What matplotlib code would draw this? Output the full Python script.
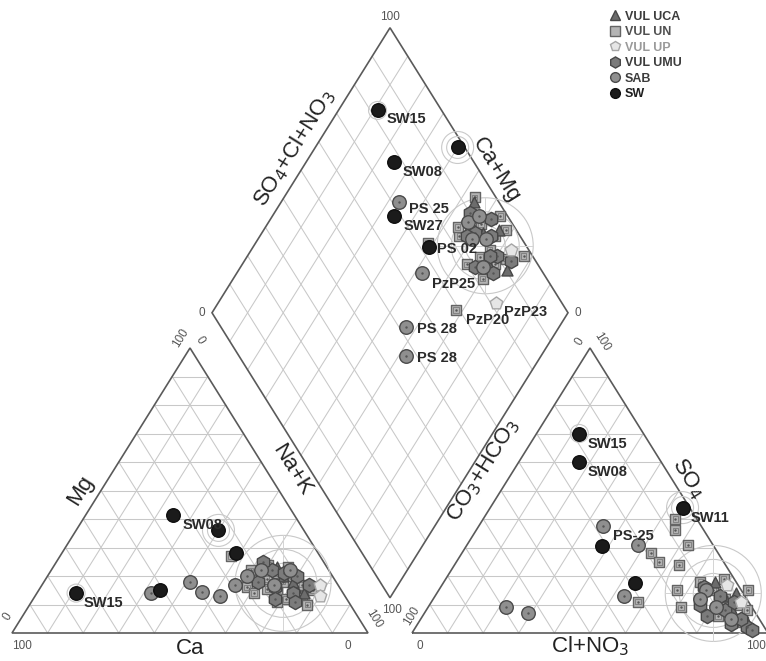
import numpy as np
import matplotlib
matplotlib.use("Agg")
import matplotlib.pyplot as plt
from matplotlib.lines import Line2D
from matplotlib.patches import Circle, Polygon

plt.rcParams["font.family"] = ["Liberation Sans", "DejaVu Sans"]

# ---------------------------------------------------------------------------
# Sample compositions, % meq/L
#   *_CAT : cation triangle  (Mg, Na+K)
#   *_AN  : anion triangle   (SO4, Cl+NO3)
#   *_DIA : diamond          (Na+K, SO4+Cl+NO3)
# ---------------------------------------------------------------------------
GROUPS = ["VUL UCA", "VUL UN", "VUL UP", "VUL UMU", "SAB", "SW"]

SW_CAT = [(14, 11), (41.5, 24.5), (36, 40), (15, 34), (28, 49)]
SW_AN = [(70, 12), (60, 17), (44, 54), (30.5, 38), (17.5, 54)]
SW_DIA = [(11, 82), (24.5, 77.5), (40, 98), (34, 68), (49.5, 72.5)]

SAB_CAT = [(14, 32), (18, 41), (14.5, 46), (13, 52), (17, 54),
           (20, 56), (22, 59), (22, 67), (17, 65)]
SAB_AN = [(37.5, 35), (31, 48), (13, 53), (9, 22), (7, 29),
          (15, 75), (9, 81), (5, 87), (12, 75)]
SAB_DIA = [(33, 72), (57, 52), (62, 47), (52, 66), (56, 88),
           (60, 86), (64, 90), (68, 84), (58, 92)]

UN_CAT = [(27, 48), (16, 58), (15.5, 64), (15, 67), (12, 71), (15, 77),
          (17, 73), (22, 56), (19, 62), (24, 60), (20, 69), (13, 75),
          (18, 67), (10, 78), (21, 64), (14, 61), (11, 69), (23, 66)]
UN_AN = [(40, 54), (36, 56), (31, 62), (28, 53), (25, 57), (24, 63),
         (15, 67), (9, 71), (11, 58), (15, 77), (10, 87), (19, 78),
         (15, 87), (6, 83), (12, 82), (8, 90), (18, 72), (4, 91)]
UN_DIA = [(68, 69), (77.5, 97.5), (48.5, 73), (53.5, 94), (64, 98),
          (56, 83), (68, 97), (63, 80), (71, 88), (65.5, 85), (54, 84),
          (60, 91), (66, 93), (58, 87), (70, 82), (62, 95), (73, 92),
          (67, 89)]

UMU_CAT = [(18, 60), (22, 62), (16, 66), (20, 70), (14, 72),
           (25, 58), (12, 68), (17, 75), (21, 66), (11, 74)]
UMU_AN = [(10, 76), (6, 80), (13, 80), (3, 88), (8, 84),
          (16, 74), (2, 93), (5, 90), (11, 85), (1, 95)]
UMU_DIA = [(60, 88), (65, 92), (70, 90), (58, 85), (72, 86),
           (66, 82), (62, 95), (75, 93), (68, 88), (55, 90)]

UCA_CAT = [(16, 71.5), (20, 66), (14, 75), (18, 70), (23, 63)]
UCA_AN = [(13, 81), (18, 76), (8, 86), (4, 92), (14, 84)]
UCA_DIA = [(54, 93), (75.5, 90.5), (62, 90), (70, 86), (66, 95)]

UP_CAT = [(17, 78), (13, 80)]
UP_AN = [(11, 87), (17, 80)]
UP_DIA = [(78, 81.5), (73, 95)]

DATA = {
    "VUL UCA": (UCA_CAT, UCA_AN, UCA_DIA),
    "VUL UN": (UN_CAT, UN_AN, UN_DIA),
    "VUL UP": (UP_CAT, UP_AN, UP_DIA),
    "VUL UMU": (UMU_CAT, UMU_AN, UMU_DIA),
    "SAB": (SAB_CAT, SAB_AN, SAB_DIA),
    "SW": (SW_CAT, SW_AN, SW_DIA),
}

# point labels: (group, sample index, text, dx, dy)
CAT_LABELS = [("SW", 0, "SW15", 8, 10), ("SW", 1, "SW08", 10, 10)]
AN_LABELS = [("SW", 0, "SW15", 8, 10), ("SW", 1, "SW08", 8, 10),
             ("SW", 2, "SW11", 8, 10), ("SAB", 0, "PS-25", 10, 10)]
DIA_LABELS = [("SW", 0, "SW15", 9, 9), ("SW", 1, "SW08", 9, 10),
              ("SAB", 0, "PS 25", 10, 7), ("SW", 3, "SW27", 10, 10),
              ("SW", 4, "PS 02", 8, 2), ("SAB", 3, "PzP25", 10, 11),
              ("VUL UN", 0, "PzP20", 10, 10), ("VUL UP", 0, "PzP23", 8, 9),
              ("SAB", 1, "PS 28", 11, 2), ("SAB", 2, "PS 28", 11, 2)]

# surface waters with a small ring drawn round them: (sample index, radii px)
SW_RINGS = [(0, (9,)), (2, (11, 16))]

# ---------------------------------------------------------------------------
# Layout (axes units are pixels, y pointing down)
# ---------------------------------------------------------------------------
W, H_FIG = 766, 661
SIDE = 356.0          # triangle side, horizontal
TRI_H = 285.0         # triangle height on screen
BASE_Y = 633.0
CAT_X0 = 12.0
AN_X0 = 412.0
GAP = AN_X0 - CAT_X0 - SIDE
DB = (CAT_X0 + SIDE + GAP / 2, BASE_Y - (GAP / 2) * TRI_H / (SIDE / 2))
DL = (DB[0] - SIDE / 2, DB[1] - TRI_H)
ANG = np.degrees(np.arctan2(TRI_H, SIDE / 2))


def cat_xy(mg, nak):
    mg = np.asarray(mg, float) / 100
    nak = np.asarray(nak, float) / 100
    return CAT_X0 + SIDE * (nak + mg / 2), BASE_Y - TRI_H * mg


def an_xy(so4, cl):
    so4 = np.asarray(so4, float) / 100
    cl = np.asarray(cl, float) / 100
    return AN_X0 + SIDE * (cl + so4 / 2), BASE_Y - TRI_H * so4


def dia_xy(nak, s):
    nak = np.asarray(nak, float) / 100
    s = np.asarray(s, float) / 100
    return DL[0] + SIDE / 2 * (nak + s), DL[1] + TRI_H * (nak - s)


PANELS = [cat_xy, an_xy, dia_xy]

STYLE = {
    "VUL UCA": dict(marker="^", s=62, fc="#6c6c6c", ec="#474747", z=4),
    "VUL UN": dict(marker="s", s=58, fc="#b4b4b4", ec="#646464", z=3),
    "VUL UP": dict(marker="p", s=90, fc="#e6e6e6", ec="#a6a6a6", z=7),
    "VUL UMU": dict(marker="h", s=105, fc="#7b7b7b", ec="#474747", z=5),
    "SAB": dict(marker="o", s=95, fc="#8f8f8f", ec="#4a4a4a", z=6),
    "SW": dict(marker="o", s=95, fc="#1b1b1b", ec="#0e0e0e", z=8),
}
LEGEND_COLORS = {"VUL UCA": "#3c3c3c", "VUL UN": "#505050", "VUL UP": "#9a9a9a",
                 "VUL UMU": "#3c3c3c", "SAB": "#3c3c3c", "SW": "#1e1e1e"}

GRID = "#c8c8c8"
EDGE = "#5a5a5a"
TXT = "#2a2a2a"

fig = plt.figure(figsize=(W / 100, H_FIG / 100), dpi=100)
ax = fig.add_axes([0, 0, 1, 1])
ax.set_xlim(0, W)
ax.set_ylim(H_FIG, 0)
ax.axis("off")


def seg(f, a, b, **kw):
    xa, ya = f(*a)
    xb, yb = f(*b)
    ax.plot([xa, xb], [ya, yb], **kw)


grid_kw = dict(color=GRID, lw=0.75, zorder=1)
for v in range(10, 100, 10):
    for f in (cat_xy, an_xy):
        seg(f, (v, 0), (v, 100 - v), **grid_kw)          # horizontal
        seg(f, (0, v), (100 - v, v), **grid_kw)          # parallel to left edge
        seg(f, (0, 100 - v), (100 - v, 0), **grid_kw)    # parallel to right edge
    seg(dia_xy, (v, 0), (v, 100), **grid_kw)
    seg(dia_xy, (0, v), (100, v), **grid_kw)

# outlines
for f in (cat_xy, an_xy):
    pts = [f(0, 0), f(0, 100), f(100, 0)]
    ax.add_patch(Polygon(pts, closed=True, fill=False, ec=EDGE, lw=1.2, zorder=2))
dia_pts = [dia_xy(0, 0), dia_xy(100, 0), dia_xy(100, 100), dia_xy(0, 100)]
ax.add_patch(Polygon(dia_pts, closed=True, fill=False, ec=EDGE, lw=1.2, zorder=2))

# faint rings around the volcanic cluster and a couple of surface waters
ring_kw = dict(fill=False, ec="#c9c9c9", lw=0.8, zorder=2.5)
for k, f in enumerate(PANELS):
    xs, ys = [], []
    for g in ("VUL UCA", "VUL UN", "VUL UP", "VUL UMU"):
        x, y = f(*np.array(DATA[g][k]).T)
        xs.extend(x)
        ys.extend(y)
    cx, cy = np.mean(xs), np.mean(ys)
    for r in (20, 34, 48):
        ax.add_patch(Circle((cx, cy), r, **ring_kw))
    ax.plot([cx - 48, cx + 48], [cy, cy], color="#d4d4d4", lw=0.7, zorder=2.5)
    ax.plot([cx, cx], [cy - 48, cy + 48], color="#d4d4d4", lw=0.7, zorder=2.5)
    for idx, radii in SW_RINGS:
        x, y = f(*DATA["SW"][k][idx])
        for r in radii:
            ax.add_patch(Circle((float(x), float(y)), r, **ring_kw))

# samples
for g in GROUPS:
    st = STYLE[g]
    for k, f in enumerate(PANELS):
        x, y = f(*np.array(DATA[g][k]).T)
        ax.scatter(x, y, marker=st["marker"], s=st["s"], c=st["fc"],
                   edgecolors=st["ec"], linewidths=1.0, zorder=st["z"])
        if g == "VUL UN":
            ax.scatter(x, y, marker="s", s=16, facecolors="none",
                       edgecolors="#7a7a7a", linewidths=0.6, zorder=st["z"])
        if g in ("VUL UN", "SAB", "VUL UMU"):
            ax.scatter(x, y, marker="o", s=3, c="#555555", linewidths=0,
                       zorder=st["z"])

# point labels
for k, labels in enumerate((CAT_LABELS, AN_LABELS, DIA_LABELS)):
    f = PANELS[k]
    for g, idx, txt, dx, dy in labels:
        x, y = f(*DATA[g][k][idx])
        ax.text(float(x) + dx, float(y) + dy, txt, fontsize=10.5,
                fontweight="bold", color=TXT, ha="left", va="center", zorder=9)

# tick labels at the corners
tick_kw = dict(fontsize=8.5, color="#555555", ha="center", va="center")


def corner(f, p, txt, dx, dy, rot=0):
    x, y = f(*p)
    ax.text(float(x) + dx, float(y) + dy, txt, rotation=rot, **tick_kw)


corner(cat_xy, (0, 0), "100", 10, 13)
corner(cat_xy, (0, 0), "0", -4, -16, ANG)
corner(cat_xy, (0, 100), "0", -20, 13)
corner(cat_xy, (0, 100), "100", 6, -14, -ANG)
corner(cat_xy, (100, 0), "100", -9, -10, ANG)
corner(cat_xy, (100, 0), "0", 10, -8, -ANG)
corner(an_xy, (0, 0), "0", 8, 13)
corner(an_xy, (0, 0), "100", 0, -17, ANG)
corner(an_xy, (0, 100), "100", -12, 13)
corner(an_xy, (100, 0), "0", -10, -6, ANG)
corner(an_xy, (100, 0), "100", 12, -6, -ANG)
corner(dia_xy, (0, 100), "100", 0, -11)
corner(dia_xy, (0, 0), "0", -10, 0)
corner(dia_xy, (100, 100), "0", 10, 0)
corner(dia_xy, (100, 0), "100", 2, 12)

# axis titles
title_kw = dict(fontsize=16, color="#222222", ha="center", va="center")


def title(f, p, txt, dx, dy, rot=0):
    x, y = f(*p)
    ax.text(float(x) + dx, float(y) + dy, txt, rotation=rot,
            rotation_mode="anchor", **title_kw)


title(cat_xy, (0, 50), "Ca", 0, 15)
title(cat_xy, (50, 0), "Mg", -21, 0, ANG)
title(cat_xy, (55, 45), "Na+K", 22, -6, -ANG)
title(an_xy, (0, 50), "Cl+NO$_3$", 0, 13)
title(an_xy, (57, 0), "CO$_3$+HCO$_3$", -30, 0, ANG)
title(an_xy, (55, 45), "SO$_4$", 18, 2, -ANG)
title(dia_xy, (0, 58), "SO$_4$+Cl+NO$_3$", -21, 0, ANG)
title(dia_xy, (50, 100), "Ca+Mg", 17, 0, -ANG)

# legend
handles = [Line2D([], [], ls="none", marker=STYLE[g]["marker"],
                  markersize=7 if g != "VUL UMU" else 8,
                  markerfacecolor=STYLE[g]["fc"],
                  markeredgecolor=STYLE[g]["ec"], label=g) for g in GROUPS]
leg = ax.legend(handles=handles, loc="upper left",
                bbox_to_anchor=(600 / W, 1 - 2 / H_FIG), frameon=False,
                prop=dict(weight="bold", size=9), labelspacing=0.28,
                handletextpad=0.3, handlelength=1.0, borderpad=0.2)
for t in leg.get_texts():
    t.set_color(LEGEND_COLORS[t.get_text()])

fig.savefig("out.png", dpi=100)
